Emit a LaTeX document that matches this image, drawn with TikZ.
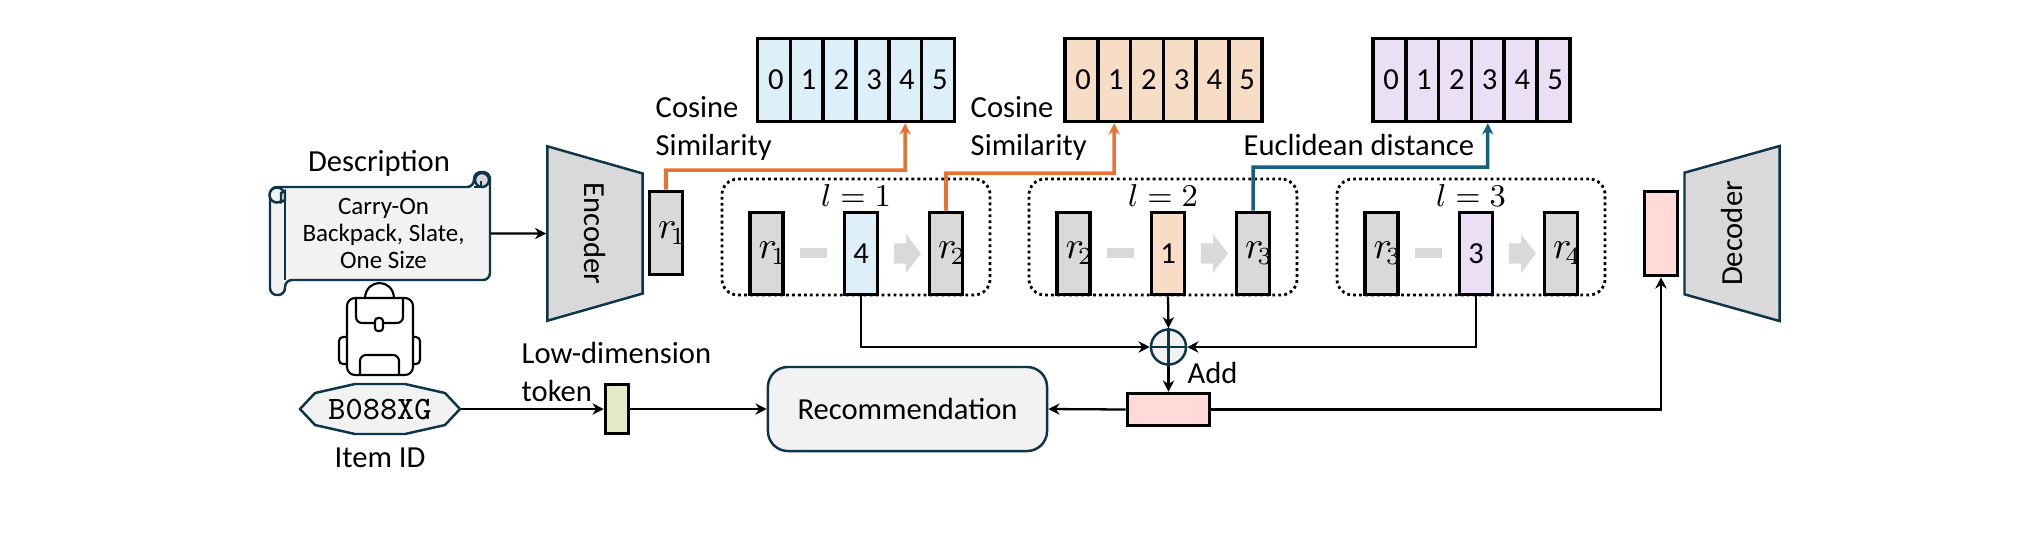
\documentclass[tikz,border=0pt]{standalone}
\usepackage[no-math]{fontspec}
\setmainfont{Carlito}
\usepackage{xcolor}
\usetikzlibrary{shapes,arrows.meta,positioning,calc}
\definecolor{vecgrey}{RGB}{217,217,217}
\definecolor{vecblue}{RGB}{221,240,250}
\definecolor{vecorange}{RGB}{247,220,198}
\definecolor{vecpurple}{RGB}{235,223,245}
\definecolor{vecpink}{RGB}{255,218,214}
\definecolor{vecgreen}{RGB}{226,235,197}
\definecolor{softgrey}{RGB}{242,242,242}
\definecolor{darkline}{RGB}{14,52,74}
\definecolor{lineorange}{RGB}{233,113,50}
\definecolor{lineblue}{RGB}{21,96,130}
\newcommand{\rlab}[1]{\makebox[0pt]{\kern3.6pt\fontsize{10.5}{12}\selectfont$r_{\!#1}$}}
\begin{document}
\begin{tikzpicture}[
    x=0.01cm, y=-0.01cm,
    >={Stealth[length=3.2pt,width=3.2pt]},
    labeltext/.style={font=\fontsize{8.7}{10.8}\selectfont, inner sep=0pt, align=left},
    vecnode/.style={rectangle, draw=black, line width=1pt, inner sep=0pt, font=\fontsize{8.7}{10}\selectfont},
    tallvec/.style={vecnode, minimum width=0.33cm, minimum height=0.82cm},
    cell/.style={vecnode, minimum width=0.328cm, minimum height=0.83cm},
    coder/.style={trapezium, draw=darkline, fill=vecgrey, line width=0.7pt, trapezium stretches=true,
        trapezium left angle=43, trapezium right angle=43, minimum width=1.75cm, minimum height=0.95cm,
        inner sep=0pt, font=\fontsize{8.7}{10}\selectfont},
    layerbox/.style={draw=black, dash pattern=on 0.8pt off 0.9pt, line width=0.8pt, rounded corners=0.16cm, minimum width=2.68cm, minimum height=1.16cm},
    conn/.style={->, line width=0.65pt},
    simline/.style={->, lineorange, line width=1pt},
    outline/.style={draw=darkline, line width=0.7pt},
    packline/.style={black, line width=0.6pt},
]
    \useasboundingbox (0,0) rectangle (2020,532);

    \foreach \arr/\x/\c in {aone/757.6/vecblue, atwo/1065/vecorange, athree/1373/vecpurple} {
        \foreach \i in {0,...,5} {
            \node[cell, fill=\c] (\arr-\i) at (\x+\i*32.8+16.4, 80) {\kern1pt\i};
        }
    }

    \filldraw[outline, fill=softgrey, rounded corners=0.07cm]
        (285,280) -- (490,280) -- (490,172) -- (474,172) -- (474,187) -- (270,187) -- (270,295) -- (285,295) -- cycle;
    \draw[outline, fill=vecgrey] (482,180) circle[radius=7];
    \draw[outline] (474,187) -- (481,187) -- (481,181);
    \draw[outline, fill=softgrey] (277,195) circle[radius=7.5];
    \draw[outline, fill=vecgrey] (281,193) -- (285,191) -- (285,200) -- (281,202) -- cycle;
    \draw[outline] (285,195) -- (285,280);
    \node[labeltext] (desclabel) at (379,163) {Description};
    \node[minimum width=2.2cm, minimum height=0.93cm, inner sep=0pt, align=center, font=\fontsize{7.1}{7.7}\selectfont] (desc) at (380,233.5)
        {\kern2pt Carry-On\\\kern2pt Backpack, Slate,\\\kern2pt One Size};

    \draw[packline, rounded corners=0.08cm] (347,298) rectangle (413,375);
    \draw[packline] (365,298) .. controls (366,278) and (393,278) .. (394,298);
    \draw[packline, rounded corners=0.06cm] (356,298) -- (356,323) -- (403,323) -- (403,298);
    \draw[packline, fill=white, rounded corners=0.03cm] (375,318) rectangle (383,331);
    \draw[packline, rounded corners=0.06cm] (360,375) -- (360,355) -- (399,355) -- (399,375);
    \draw[packline, rounded corners=0.04cm] (347,337) -- (339,337) -- (339,364) -- (347,364);
    \draw[packline, rounded corners=0.04cm] (413,337) -- (420,337) -- (420,364) -- (413,364);

    \filldraw[outline, fill=softgrey] (300,409) -- (315,393) -- (355,384) -- (405,384) -- (445,393) -- (460,409)
        -- (445,425) -- (405,434) -- (355,434) -- (315,425) -- cycle;
    \node[minimum width=1.6cm, minimum height=0.5cm, inner sep=0pt, font=\ttfamily\fontsize{9.3}{10}\selectfont] (itemid) at (380,409) {B088XG};
    \node[labeltext] (itemlabel) at (380,458) {Item ID};

    \node[coder, rotate=-90] (enc) at (595,233.5) {Encoder};
    \node[tallvec, fill=vecgrey, minimum height=0.83cm] (rzero) at (666,233) {\rlab{1}};

    \node[labeltext, anchor=west] (cosone) at (655,128) {Cosine\\Similarity};
    \node[labeltext, anchor=west] (costwo) at (970,128) {Cosine\\Similarity};
    \node[labeltext, anchor=west] (euclabel) at (1243,145) {Euclidean distance};

    \foreach \l/\x/\c/\d/\a/\b in {1/722/vecblue/4/1/2, 2/1029/vecorange/1/2/3, 3/1337/vecpurple/3/3/4} {
        \node[layerbox] (layer\l) at (\x+134,237) {};
        \node[inner sep=0pt, font=\small] (llabel\l) at (\x+134,195) {$l=\l$};
        \node[tallvec, fill=vecgrey] (rin\l) at (\x+44.5,253.5) {\rlab{\a}};
        \node[tallvec, fill=\c] (mid\l) at (\x+139,253.5) {\d};
        \node[tallvec, fill=vecgrey] (rout\l) at (\x+224,253.5) {\rlab{\b}};
        \node[fill=vecgrey, minimum width=0.27cm, minimum height=0.1cm, inner sep=0pt] (minus\l) at (\x+91.5,253) {};
        \node[single arrow, fill=vecgrey, minimum height=0.27cm, inner xsep=0pt, inner ysep=0.095cm,
            single arrow head extend=0.09cm, single arrow tip angle=105, single arrow head indent=0pt] (step\l) at (\x+181.5,253.5) {};
    }

    \coordinate (bendone) at (905,170);
    \coordinate (bendtwo) at (1114,173);
    \coordinate (bendthree) at (1487.5,167);
    \draw[simline] (rzero.north) |- (bendone) -- (aone-4.south);
    \draw[simline] (rout1.north) |- (bendtwo) -- (atwo-1.south);
    \draw[simline, lineblue] (rout2.north) |- (bendthree) -- (athree-3.south);

    \node[circle, draw=darkline, fill=softgrey, line width=0.7pt, minimum size=0.35cm, inner sep=0pt] (add) at (1168.5,347) {};
    \draw[outline] (add.north) -- (add.south);
    \draw[outline] (add.west) -- (add.east);
    \node[labeltext, anchor=west] (addlabel) at (1187,373) {Add};
    \node[vecnode, fill=vecpink, minimum width=0.82cm, minimum height=0.32cm] (sum) at (1168.5,409.5) {};
    \node[vecnode, fill=vecpink, minimum width=0.33cm, minimum height=0.84cm] (decvec) at (1661,233.5) {};
    \node[coder, rotate=90] (dec) at (1732,233.5) {Decoder};

    \node[labeltext, anchor=west] (lowlabel) at (521,371.5) {Low-dimension\\token};
    \node[vecnode, fill=vecgreen, minimum width=0.23cm, minimum height=0.49cm] (token) at (617,409) {};
    \node[draw=darkline, fill=softgrey, line width=0.7pt, rounded corners=0.2cm, minimum width=2.79cm, minimum height=0.84cm,
        inner sep=0pt, font=\fontsize{8.7}{10}\selectfont] (rec) at (907.5,409) {Recommendation};

    \draw[conn] (desc.east) -- (enc.south);
    \draw[conn] (itemid.east) -- (token.west);
    \draw[conn] (token.east) -- (rec.west);
    \draw[conn] (mid1.south) |- (add.west);
    \draw[conn] (mid3.south) |- (add.east);
    \draw[conn] (mid2.south) -- (add.north);
    \draw[conn] (add.south) -- (sum.north);
    \draw[conn] (sum.west) -- (rec.east);
    \draw[conn] (sum.east) -| (decvec.south);
\end{tikzpicture}
\end{document}
